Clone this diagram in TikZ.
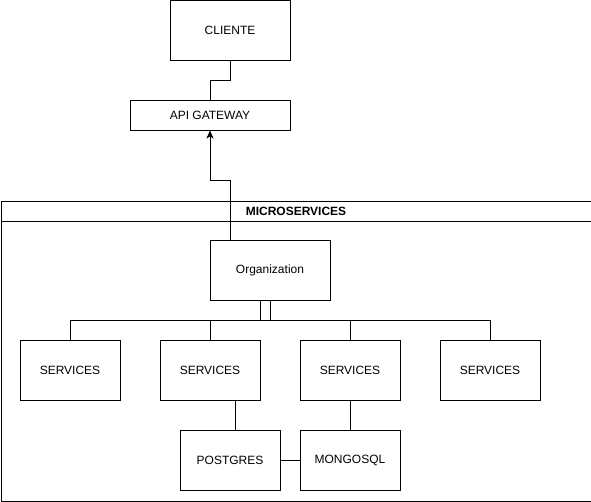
\documentclass[tikz,border=0pt]{standalone}
\usepackage{fontspec}
\setmainfont{Liberation Sans}
\usetikzlibrary{arrows.meta}
\begin{document}
\begin{tikzpicture}[x=1pt,y=-1pt,line width=1pt,
  box/.style={draw,rectangle,minimum width=#1,inner sep=0pt,font=\fontsize{12}{14}\selectfont},
  conn/.style={draw,line width=1pt},
  arr/.style={conn,-{Stealth[length=8pt,width=7pt,inset=2pt]}}]
\useasboundingbox (0,0) rectangle (591,501);
% container
\node[draw,rectangle,minimum width=590pt,minimum height=300pt,inner sep=0pt,anchor=north west] (ms) at (0.5,200.5) {};
\node[draw,rectangle,minimum width=590pt,minimum height=20pt,inner sep=0pt,anchor=north west,font=\bfseries\fontsize{12}{14}\selectfont] (msh) at (0.5,200.5) {MICROSERVICES};
% nodes
\node[box=120pt,minimum height=60pt] (cli) at (230,30) {CLIENTE};
\node[box=160pt,minimum height=30pt] (api) at (210,115) {API GATEWAY};
\node[box=120pt,minimum height=60pt] (org) at (270,270) {Organization};
\node[box=100pt,minimum height=60pt] (s1) at (70,370) {SERVICES};
\node[box=100pt,minimum height=60pt] (s2) at (210,370) {SERVICES};
\node[box=100pt,minimum height=60pt] (s3) at (350,370) {SERVICES};
\node[box=100pt,minimum height=60pt] (s4) at (490,370) {SERVICES};
\node[box=100pt,minimum height=60pt] (pg) at (230,460) {POSTGRES};
\node[box=100pt,minimum height=60pt] (mg) at (350,460) {MONGOSQL};
% connectors
\coordinate (c1) at (230,80);
\coordinate (c2) at (230,180);
\draw[conn] (cli.south) -- (c1) -| (api.north);
\draw[arr] ([xshift=-40pt]org.north) -- (c2) -| (api.south);
\draw[conn] (org.south) -- ++(0,20) -| (s1.north);
\draw[conn] (org.south) -- ++(0,20) -| (s4.north);
\draw[conn] (org.south) -- ++(0,20) -| (s3.north);
\draw[conn] ([xshift=-10pt]org.south) -- ++(0,20) -| (s2.north);
\draw[conn] ([xshift=25pt]s2.south) -- ([xshift=5pt]pg.north);
\draw[conn] (s3.south) -- (mg.north);
\draw[conn] (pg.east) -- (mg.west);
\end{tikzpicture}
\end{document}
